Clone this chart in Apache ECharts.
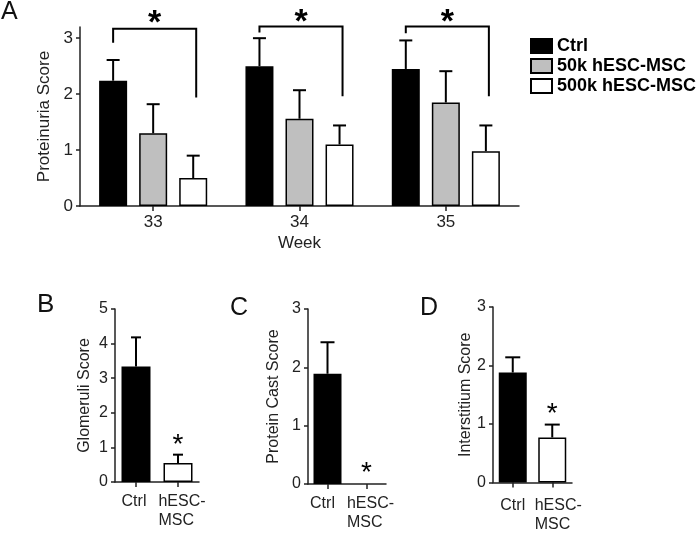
<!DOCTYPE html>
<html>
<head>
<meta charset="utf-8">
<script src="https://cdn.jsdelivr.net/npm/echarts@6/dist/echarts.min.js"></script>
<style>html,body{margin:0;padding:0;background:#fff;}#c{width:697px;height:533px;}</style>
</head>
<body>
<div id="c"></div>
<script>
// ---- Panel A data ----
const weeks = ['33', '34', '35'];
const seriesNames = ['Ctrl', '50k hESC-MSC', '500k hESC-MSC'];
const ctrlMean = [2.24, 2.50, 2.45];
const ctrlSem = [0.37, 0.50, 0.51];
const k50Mean = [1.30, 1.56, 1.85];
const k50Sem = [0.52, 0.51, 0.56];
const k500Mean = [0.50, 1.10, 0.98];
const k500Sem = [0.40, 0.34, 0.46];
const bracketLeft = [2.92, 3.10, 3.09];
const bracketTop = [3.17, 3.21, 3.21];
const bracketRight = [1.94, 1.96, 1.96];
const starA = [3.26, 3.28, 3.28];
const ticksA = [0, 1, 2, 3];
// ---- Panels B-D data ----
const groups = ['Ctrl', 'hESC-\nMSC'];
const glomMean = [3.34, 0.55];
const glomSem = [0.84, 0.24];
const castMean = [1.89, 0];
const castSem = [0.54, 0];
const interMean = [1.88, 0.77];
const interSem = [0.26, 0.22];
const starB = [1, 1.05];
const starC = [1, 0.18];
const starD = [1, 1.17];

const FONT = '"Liberation Sans", Arial, sans-serif';
const TXT = '#222';
const BW = 28, GAP = 0.43;
const OFF = BW * (1 + GAP);

function errRender(offset, cap) {
  return function (params, api) {
    const x = api.value(0), m = api.value(1), e = api.value(2);
    if (!e) return null;
    const p0 = api.coord([x, m]);
    const p1 = api.coord([x, m + e]);
    const cx = p0[0] + offset;
    return {
      type: 'group',
      children: [
        { type: 'line', shape: { x1: cx, y1: p0[1], x2: cx, y2: p1[1] }, style: { stroke: '#000', lineWidth: 2 } },
        { type: 'line', shape: { x1: cx - cap / 2, y1: p1[1], x2: cx + cap / 2, y2: p1[1] }, style: { stroke: '#000', lineWidth: 2 } }
      ]
    };
  };
}
function errSeries(xi, means, sems, offset, cap) {
  return {
    type: 'custom', xAxisIndex: xi, yAxisIndex: xi, clip: false, z: 5,
    renderItem: errRender(offset, cap),
    encode: { x: 0, y: 1 },
    data: means.map((m, i) => [i, m, sems[i]])
  };
}
function starSeries(xi, pos, size) {
  return {
    type: 'custom', xAxisIndex: xi, yAxisIndex: xi, clip: false, z: 6,
    renderItem: function (params, api) {
      const p = api.coord([api.value(0), api.value(1)]);
      return { type: 'text', x: p[0], y: p[1], style: { text: '*', fontSize: size, fontFamily: FONT, fill: '#000', align: 'center', verticalAlign: 'middle' } };
    },
    encode: { x: 0, y: 1 },
    data: [pos]
  };
}
function yAxis(gi, max, name, gap, fs, ticks) {
  const o = {
    type: 'value', gridIndex: gi, min: 0, max: max, interval: 1,
    name: name, nameLocation: 'middle', nameGap: gap,
    nameTextStyle: { fontSize: fs, fontFamily: FONT, color: TXT },
    axisLine: { show: true, lineStyle: { color: '#222', width: 1.5 } },
    axisTick: { show: true, length: 4, lineStyle: { color: '#222', width: 1.5 } },
    axisLabel: { fontSize: fs, fontFamily: FONT, color: TXT, margin: 7 },
    splitLine: { show: false }
  };
  if (ticks) { o.axisLabel.customValues = ticks; o.axisTick.customValues = ticks; }
  return o;
}
function xAxisA() {
  return {
    type: 'category', gridIndex: 0, data: weeks,
    name: 'Week', nameLocation: 'middle', nameGap: 29,
    nameTextStyle: { fontSize: 17, fontFamily: FONT, color: TXT },
    axisLine: { lineStyle: { color: '#222', width: 1.5 } },
    axisTick: { show: true, alignWithLabel: true, length: 5, lineStyle: { color: '#222', width: 1.5 } },
    axisLabel: { fontSize: 17, fontFamily: FONT, color: TXT, margin: 8 }
  };
}
function xAxisSmall(gi, margin, cPad, hPad) {
  return {
    type: 'category', gridIndex: gi, data: groups,
    axisLine: { lineStyle: { color: '#222', width: 1.5 } },
    axisTick: { show: true, alignWithLabel: true, length: 5, lineStyle: { color: '#222', width: 1.5 } },
    axisLabel: {
      interval: 0, margin: margin, color: TXT, fontFamily: FONT, fontSize: 16,
      formatter: function (v, i) {
        return i === 0 ? '{c|' + v + '}' : v.split('\n').map(s => '{h|' + s + '}').join('\n');
      },
      rich: {
        c: { fontSize: 16, fontFamily: FONT, color: TXT, lineHeight: 19, padding: [0, cPad, 0, 0] },
        h: { fontSize: 16, fontFamily: FONT, color: TXT, lineHeight: 19, align: 'left', padding: [0, 0, 0, hPad] }
      }
    }
  };
}

const chart = echarts.init(document.getElementById('c'), null, { renderer: 'canvas' });
const barStyle = (c) => ({ color: c, borderColor: '#000', borderWidth: 1.5 });

chart.setOption({
  backgroundColor: '#fff',
  animation: false,
  textStyle: { fontFamily: FONT },
  grid: [
    { left: 80, top: 27, width: 439, height: 179 },
    { left: 115, top: 309, width: 84, height: 173 },
    { left: 308, top: 309, width: 78, height: 175 },
    { left: 493, top: 307, width: 79, height: 179 }
  ],
  legend: {
    data: seriesNames, orient: 'vertical', left: 525, top: 32,
    itemWidth: 21, itemHeight: 14, itemGap: 2, icon: 'rect',
    textStyle: { fontSize: 18, fontWeight: 'bold', color: '#000', fontFamily: FONT }
  },
  graphic: [
    { type: 'text', left: 1, top: 0, style: { text: 'A', fontSize: 25, fontFamily: FONT, fill: '#111' } },
    { type: 'text', left: 37, top: 292, style: { text: 'B', fontSize: 26, fontFamily: FONT, fill: '#111' } },
    { type: 'text', left: 230, top: 296, style: { text: 'C', fontSize: 25, fontFamily: FONT, fill: '#111' } },
    { type: 'text', left: 420, top: 296, style: { text: 'D', fontSize: 25, fontFamily: FONT, fill: '#111' } }
  ],
  xAxis: [
    xAxisA(),
    xAxisSmall(1, 10, 4, 8),
    xAxisSmall(2, 10, 10, 8),
    xAxisSmall(3, 14, 0, 12)
  ],
  yAxis: [
    yAxis(0, 3.2, 'Proteinuria Score', 23, 17, ticksA),
    yAxis(1, 5, 'Glomeruli Score', 22, 16),
    yAxis(2, 3, 'Protein Cast Score', 26, 16),
    yAxis(3, 3, 'Interstitium Score', 18, 16)
  ],
  series: [
    { name: seriesNames[0], type: 'bar', xAxisIndex: 0, yAxisIndex: 0, data: ctrlMean, barWidth: BW, barGap: (GAP * 100) + '%', itemStyle: barStyle('#000') },
    { name: seriesNames[1], type: 'bar', xAxisIndex: 0, yAxisIndex: 0, data: k50Mean, barWidth: BW, barGap: (GAP * 100) + '%', itemStyle: barStyle('#bfbfbf') },
    { name: seriesNames[2], type: 'bar', xAxisIndex: 0, yAxisIndex: 0, data: k500Mean, barWidth: BW, barGap: (GAP * 100) + '%', itemStyle: barStyle('#fff') },
    errSeries(0, ctrlMean, ctrlSem, -OFF, 13),
    errSeries(0, k50Mean, k50Sem, 0, 13),
    errSeries(0, k500Mean, k500Sem, OFF, 13),
    {
      type: 'custom', xAxisIndex: 0, yAxisIndex: 0, clip: false, z: 6,
      encode: { x: 0, y: 2 },
      data: weeks.map((w, i) => [i, bracketLeft[i], bracketTop[i], bracketRight[i], starA[i]]),
      renderItem: function (params, api) {
        const i = api.value(0);
        const pl = api.coord([i, api.value(1)]);
        const pt = api.coord([i, api.value(2)]);
        const pr = api.coord([i, api.value(3)]);
        const ps = api.coord([i, api.value(4)]);
        const xl = pl[0] - OFF, xr = pl[0] + OFF + 3;
        return {
          type: 'group',
          children: [
            { type: 'polyline', shape: { points: [[xl, pl[1]], [xl, pt[1]], [xr, pt[1]], [xr, pr[1]]] }, style: { stroke: '#000', lineWidth: 2, fill: null } },
            { type: 'text', x: (xl + xr) / 2, y: ps[1], style: { text: '*', fontSize: 34, fontWeight: 'bold', fontFamily: FONT, fill: '#000', align: 'center', verticalAlign: 'middle' } }
          ]
        };
      }
    },
    { type: 'bar', xAxisIndex: 1, yAxisIndex: 1, barWidth: 29,
      data: glomMean.map((v, i) => ({ value: v, itemStyle: barStyle(i === 0 ? '#000' : '#fff') })) },
    errSeries(1, glomMean, glomSem, 0, 10),
    starSeries(1, starB, 28),
    { type: 'bar', xAxisIndex: 2, yAxisIndex: 2, barWidth: 28,
      data: castMean.map((v, i) => ({ value: v, itemStyle: i === 0 ? barStyle('#000') : { color: 'rgba(0,0,0,0)', borderWidth: 0 } })) },
    errSeries(2, castMean, castSem, 0, 14),
    starSeries(2, starC, 28),
    { type: 'bar', xAxisIndex: 3, yAxisIndex: 3, barWidth: 28,
      data: interMean.map((v, i) => ({ value: v, itemStyle: barStyle(i === 0 ? '#000' : '#fff') })) },
    errSeries(3, interMean, interSem, 0, 15),
    starSeries(3, starD, 28)
  ]
});
</script>
</body>
</html>
